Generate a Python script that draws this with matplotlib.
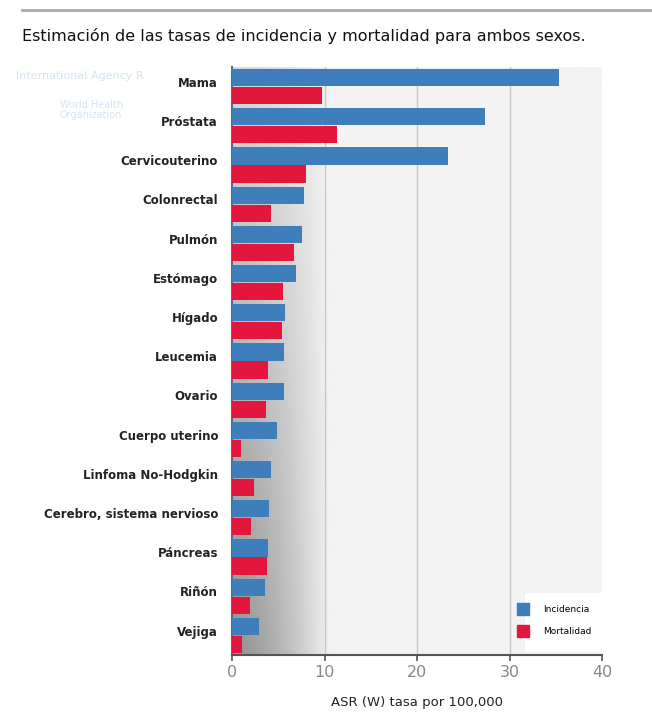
import numpy as np
import matplotlib.pyplot as plt
from matplotlib.patches import Patch, Rectangle

# valores (ASR (W) tasa por 100,000)
cancer = ['Mama', 'Próstata', 'Cervicouterino', 'Colonrectal', 'Pulmón',
          'Estómago', 'Hígado', 'Leucemia', 'Ovario', 'Cuerpo uterino',
          'Linfoma No-Hodgkin', 'Cerebro, sistema nervioso', 'Páncreas',
          'Riñón', 'Vejiga']
incidencia = [35.4, 27.4, 23.4, 7.8, 7.6, 6.9, 5.7, 5.6, 5.6, 4.9, 4.2, 4.0, 3.9, 3.6, 2.9]
mortalidad = [9.7, 11.3, 8.0, 4.2, 6.7, 5.5, 5.4, 3.9, 3.7, 1.0, 2.4, 2.1, 3.8, 1.9, 1.1]
xticks = [0, 10, 20, 30, 40]

azul = '#3d7ebb'
rojo = '#e3163d'

fig = plt.figure(figsize=(6.52, 7.13), dpi=100)
ax = fig.add_axes([232/652, 1 - 655/713, 370/652, 588/713])

# fondo con degradado gris: mas oscuro abajo a la izquierda
n = len(cancer)
xs = np.linspace(0, 40, 400)
ts = np.linspace(0, 1, 200)[:, np.newaxis]
dark = 0.84 - 0.26 * ts
reach = 10.5
frac = np.clip(xs / reach, 0, 1) ** 1.5
shade = dark + (0.95 - dark) * frac
ax.imshow(shade, extent=[0, 40, n - 0.5, -0.5], aspect='auto', cmap='gray',
          vmin=0, vmax=1, zorder=0)

y = np.arange(n)
h = 0.44
ax.barh(y - 0.23, incidencia, height=h, color=azul, zorder=3)
ax.barh(y + 0.23, mortalidad, height=h, color=rojo, zorder=3)

ax.set_ylim(n - 0.5, -0.5)
ax.set_xlim(0, 40)
ax.set_yticks(y - 0.12)
ax.set_yticklabels(cancer, fontsize=8.5, fontweight='bold', color='#222222')
ax.tick_params(axis='y', length=0, pad=10)
ax.set_xticks(xticks)
ax.tick_params(axis='x', labelsize=11.5, labelcolor='#888888', color='#555555',
               length=4, width=1.2)
for v in xticks[1:-1]:
    ax.axvline(v, color='#c8c8c8', lw=1, zorder=1)

for s in ['top', 'right']:
    ax.spines[s].set_visible(False)
ax.spines['bottom'].set_color('#555555')
ax.spines['bottom'].set_linewidth(1.5)
ax.spines['left'].set_color('#4a6f99')
ax.spines['left'].set_linewidth(1.5)

ax.set_xlabel('ASR (W) tasa por 100,000', fontsize=9.5, color='#222222', labelpad=11)

# caja blanca de la leyenda (los cuadros quedan a su izquierda)
ax.add_patch(Rectangle((525/652, 1 - 652/713), 77/652, 59/713, transform=fig.transFigure,
                       facecolor='white', edgecolor='none', zorder=4))
leg = ax.legend(handles=[Patch(color=azul, label='Incidencia'),
                         Patch(color=rojo, label='Mortalidad')],
                loc='lower left', bbox_to_anchor=((499 - 232) / 370, 0.0), fontsize=6.5,
                frameon=False, handlelength=1.3, handleheight=1.6, handletextpad=1.6,
                borderpad=1.5, labelspacing=1.2)
leg.set_zorder(5)

# titulo y linea superior
fig.text(22/652, 1 - 36/713, 'Estimación de las tasas de incidencia y mortalidad para ambos sexos.',
         fontsize=11.5, color='#111111', va='center')
fig.add_artist(plt.Line2D([22/652, 1], [1 - 10/713, 1 - 10/713], color='#aaaaaa', lw=2))

# marca de agua
fig.text(16/652, 1 - 76/713, 'International Agency R', fontsize=8, color='#d6e3ee', va='center')
fig.text(60/652, 1 - 110/713, 'World Health\nOrganization', fontsize=7, color='#d6e3ee',
         va='center', linespacing=0.9)

fig.savefig('out.png', dpi=100)
